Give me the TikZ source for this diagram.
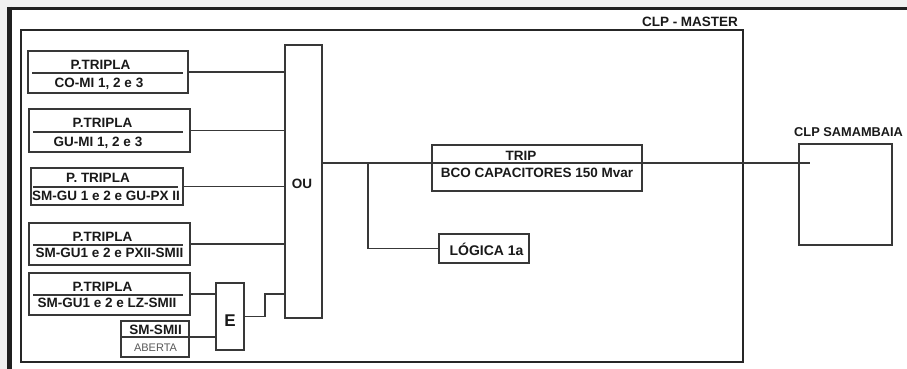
\documentclass[tikz,border=0pt]{standalone}
\usepackage{fontspec}
\setmainfont{Liberation Sans}
\begin{document}
\begin{tikzpicture}[x=1pt,y=-1pt,
  box/.style={draw=black!78, line width=1.7pt, rectangle, inner sep=0pt},
  txt/.style={font=\fontsize{13.5}{13.5}\selectfont\bfseries, text height=9.7pt, text depth=0pt, inner sep=0pt, text=black!90},
  small/.style={font=\fontsize{11}{11}\selectfont, text height=7.9pt, text depth=0pt, inner sep=0pt, text=black!65},
  wire/.style={draw=black!78, line width=1.7pt}]
\useasboundingbox (0,0) rectangle (907,369);
\fill[black!6] (0,0) rectangle (907,369);
\fill[white] (7,7) rectangle (907,369);
\draw[black!88, line width=3.5pt] (7,8.7) -- (907,8.7);
\draw[black!88, line width=5pt] (9.7,7) -- (9.7,369);
% master frame
\node[draw=black!85, line width=2.6pt, rectangle, inner sep=0pt, minimum width=722pt, minimum height=332pt] (master) at (382,196) {};
\node[txt] (mastert) at (690,21.5) {CLP - MASTER};
% samambaia
\node[box, minimum width=93pt, minimum height=101pt] (sam) at (845.5,194.5) {};
\node[txt, font=\fontsize{12.8}{12.8}\selectfont\bfseries, anchor=west] (samt) at (794,132) {CLP SAMAMBAIA};
% OU
\node[box, minimum width=37pt, minimum height=273pt] (ou) at (303.5,181.5) {};
\node[txt] (out) at (302,184) {OU};
% trip
\node[box, minimum width=210pt, minimum height=46pt] (trip) at (537,168) {};
\node[txt] (tript) at (521,156) {TRIP};
\node[txt] (tripb) at (537,173) {BCO CAPACITORES 150 Mvar};
% logica
\node[box, minimum width=90pt, minimum height=29pt] (logica) at (484,248.5) {};
\node[txt, font=\fontsize{14}{14}\selectfont\bfseries, text height=10pt] (logicat) at (486.5,250) {LÓGICA 1a};
% left boxes
\node[box, minimum width=160pt, minimum height=42pt] (b1) at (108,72) {};
\node[txt] (b1a) at (100.5,65) {P.TRIPLA};
\node[txt] (b1b) at (99,83) {CO-MI 1, 2 e 3};
\draw[wire] (32,73) -- (183,73);
\node[box, minimum width=161pt, minimum height=43pt] (b2) at (109.5,130.5) {};
\node[txt] (b2a) at (102.5,123) {P.TRIPLA};
\node[txt] (b2b) at (98,142) {GU-MI 1, 2 e 3};
\draw[wire] (33,132) -- (183,132);
\node[box, minimum width=152pt, minimum height=37pt] (b3) at (107,186.5) {};
\node[txt] (b3a) at (98,178) {P. TRIPLA};
\node[txt] (b3b) at (106,195.5) {SM-GU 1 e 2 e GU-PX II};
\draw[wire] (33,187) -- (178,187);
\node[box, minimum width=161pt, minimum height=42pt] (b4) at (109.5,244) {};
\node[txt] (b4a) at (102.5,237) {P.TRIPLA};
\node[txt] (b4b) at (109.5,253) {SM-GU1 e 2 e PXII-SMII};
\draw[wire] (33,245) -- (183,245);
\node[box, minimum width=161pt, minimum height=42pt] (b5) at (109.5,294) {};
\node[txt] (b5a) at (102.5,287) {P.TRIPLA};
\node[txt] (b5b) at (107,303) {SM-GU1 e 2 e LZ-SMII};
\draw[wire] (33,295) -- (183,295);
\node[box, minimum width=68pt, minimum height=36pt] (sm) at (155,339) {};
\node[txt] (smt) at (155.5,329.5) {SM-SMII};
\node[small] (smb) at (155.5,347.5) {ABERTA};
% E gate
\node[box, minimum width=28pt, minimum height=67pt] (e) at (230,316.5) {};
\node[txt, font=\fontsize{17}{17}\selectfont\bfseries, text height=12.2pt] (et) at (230,320) {E};
% connectors
\draw[wire] (b1.east) -- (b1.east -| ou.west);
\draw[wire] (b2.east) -- (b2.east -| ou.west);
\draw[wire] (b3.east) -- (b3.east -| ou.west);
\draw[wire] (b4.east) -- (b4.east -| ou.west);
\draw[wire] (b5.east) -- (b5.east -| e.west);
\coordinate (smdiv) at (155,337);
\draw[wire] (smdiv -| sm.west) -- (smdiv -| e.west);
\draw[wire] (e.east) -- ++(20,0) |- (ou.west |- b5.east);
\coordinate (tl) at (322,163);
\coordinate (send) at (810,163);
\coordinate (br) at (368,163);
\draw[wire] (ou.east |- tl) -- (send);
\draw[wire] (br) |- (logica.west);
\end{tikzpicture}
\end{document}
